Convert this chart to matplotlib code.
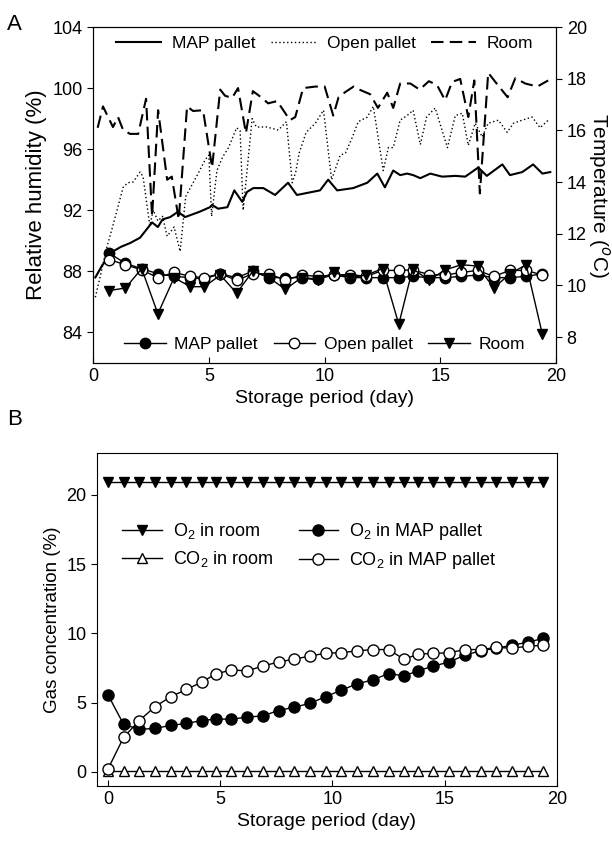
import numpy as np
import matplotlib
matplotlib.use("Agg")
import matplotlib.pyplot as plt

plt.rcParams['font.family'] = ['Liberation Sans', 'DejaVu Sans']
plt.rcParams['mathtext.fontset'] = 'custom'
plt.rcParams['mathtext.rm'] = 'Liberation Sans'

# ---- Panel A: relative humidity lines (left axis) ----
rh_map_day = [0.1, 0.4, 0.86, 1.2, 1.6, 2.03, 2.55, 2.8, 3.0, 3.33, 3.67, 3.97, 4.6, 5.05, 5.14,
              5.4, 5.8, 6.1, 6.44, 6.65, 6.92, 7.35, 7.86, 8.42, 8.8, 9.8, 10.15, 10.54, 11.23,
              11.84, 12.27, 12.6, 12.96, 13.26, 13.56, 13.82, 14.13, 14.56, 15.07, 15.64, 16.07,
              16.63, 17.0, 17.67, 18.0, 18.53, 19.0, 19.4, 19.74]
rh_map = [87.6, 88.4, 89.3, 89.6, 89.85, 90.2, 91.2, 90.9, 91.4, 91.55, 91.9, 91.55, 91.9, 92.2, 92.35,
          92.1, 92.2, 93.3, 92.55, 93.2, 93.45, 93.45, 93.0, 93.8, 93.0, 93.3, 94.0, 93.3, 93.45,
          93.8, 94.4, 93.5, 94.6, 94.3, 94.4, 94.3, 94.1, 94.4, 94.2, 94.25, 94.2,
          94.8, 94.25, 95.0, 94.3, 94.5, 95.0, 94.4, 94.5]

rh_open_day = [0.1, 0.3, 0.6, 0.86, 1.3, 1.5, 1.73, 2.03, 2.16, 2.45, 2.6, 2.8, 3.0, 3.2, 3.5, 3.76,
               4.0, 4.5, 4.84, 5.0, 5.12, 5.35, 5.6, 5.85, 6.2, 6.35, 6.48, 6.65, 6.87, 7.05, 7.5,
               8.0, 8.35, 8.6, 8.75, 8.9, 9.2, 9.6, 9.95, 10.3, 10.67, 10.9, 11.2, 11.45, 11.84,
               12.1, 12.53, 12.75, 12.96, 13.26, 13.56, 13.82, 14.13, 14.4, 14.77, 15.3, 15.64,
               15.94, 16.2, 16.5, 16.8, 17.06, 17.5, 17.88, 18.15, 18.53, 18.96, 19.3, 19.65]
rh_open = [86.3, 87.6, 89.6, 91.0, 93.5, 93.8, 93.85, 94.5, 94.2, 91.0, 92.0, 91.3, 91.6, 90.3, 90.9, 89.3,
           92.9, 94.3, 95.3, 95.6, 91.6, 94.6, 95.5, 96.1, 97.4, 97.2, 92.0, 94.6, 98.0, 97.45, 97.45,
           97.25, 97.8, 93.8, 94.5, 95.75, 97.1, 97.7, 98.55, 94.0, 95.6, 95.75, 96.8, 97.8, 98.1,
           98.8, 94.6, 96.1, 96.1, 97.9, 98.2, 98.55, 96.3, 98.1, 98.7, 96.1, 98.2,
           98.35, 96.25, 97.7, 96.8, 97.7, 97.9, 97.1, 97.7, 97.9, 98.1, 97.4, 97.9]

rh_room_day = [0.2, 0.43, 0.86, 1.08, 1.3, 1.6, 1.95, 2.29, 2.55, 2.81, 3.2, 3.4, 3.7, 4.06, 4.32,
               4.75, 5.14, 5.49, 5.7, 6.0, 6.26, 6.6, 6.9, 7.3, 7.56, 7.95, 8.5, 8.73, 9.07, 9.6,
               10.0, 10.37, 10.6, 10.9, 11.25, 11.5, 11.96, 12.3, 12.7, 12.96, 13.26, 13.7, 14.1,
               14.5, 14.85, 15.2, 15.5, 15.85, 16.2, 16.46, 16.7, 17.06, 17.37, 17.9, 18.23, 18.66,
               19.18, 19.65]
rh_room = [97.4, 98.8, 97.45, 98.1, 97.25, 97.0, 97.0, 99.3, 91.6, 98.55, 94.0, 94.2, 91.4, 98.8, 98.5,
           98.55, 94.8, 99.9, 99.5, 99.35, 100.0, 97.05, 99.8, 99.35, 99.0, 99.15, 97.9, 98.1, 100.0, 100.1,
           100.1, 98.2, 99.4, 99.75, 100.1, 99.9, 99.6, 98.7, 99.7, 98.7, 100.3, 100.3, 99.9,
           100.45, 100.2, 99.2, 100.4, 100.6, 98.1, 100.5, 93.1, 101.0, 100.4, 99.4, 100.65, 100.3,
           100.1, 100.5]

# ---- Panel A: temperature markers (right axis) ----
temp_day = [0.7, 1.4, 2.1, 2.8, 3.5, 4.2, 4.8, 5.5, 6.2, 6.9, 7.6, 8.3, 9.0, 9.7, 10.4, 11.1, 11.8,
            12.5, 13.2, 13.8, 14.5, 15.2, 15.9, 16.6, 17.3, 18.0, 18.7, 19.4]
temp_map = [11.25, 10.85, 10.65, 10.45, 10.35, 10.3, 10.25, 10.45, 10.3, 10.55, 10.3, 10.3, 10.3, 10.25,
            10.4, 10.3, 10.3, 10.3, 10.3, 10.35, 10.3, 10.3, 10.35, 10.4, 10.3, 10.3, 10.35, 10.45]
temp_open = [11.0, 10.8, 10.6, 10.3, 10.5, 10.35, 10.3, 10.45, 10.2, 10.45, 10.45, 10.2, 10.4, 10.35,
             10.4, 10.42, 10.35, 10.58, 10.58, 10.6, 10.42, 10.4, 10.5, 10.58, 10.35, 10.58, 10.58, 10.4]
temp_room = [9.8, 9.9, 10.65, 8.9, 10.3, 9.95, 9.95, 10.4, 9.7, 10.55, 10.3, 9.85, 10.3, 10.2,
             10.5, 10.3, 10.4, 10.65, 8.5, 10.65, 10.2, 10.6, 10.8, 10.75, 9.9, 10.45, 10.8, 8.1]

# ---- Panel B: gas concentration ----
gas_day = [0.0, 0.7, 1.4, 2.1, 2.8, 3.5, 4.2, 4.8, 5.5, 6.2, 6.9, 7.6, 8.3, 9.0, 9.7, 10.4, 11.1, 11.8,
           12.5, 13.2, 13.8, 14.5, 15.2, 15.9, 16.6, 17.3, 18.0, 18.7, 19.4]
o2_room = [20.9] * 29
co2_room = [0.1] * 29
o2_map = [5.57, 3.43, 3.07, 3.14, 3.36, 3.5, 3.71, 3.81, 3.81, 3.95, 4.05, 4.43, 4.67, 4.95, 5.43,
          5.9, 6.36, 6.64, 7.1, 6.93, 7.29, 7.64, 7.93, 8.43, 8.74, 8.93, 9.14, 9.36, 9.64]
co2_map = [0.2, 2.5, 3.71, 4.71, 5.43, 5.95, 6.5, 7.07, 7.36, 7.29, 7.64, 7.93, 8.14, 8.36, 8.57,
           8.6, 8.74, 8.83, 8.83, 8.12, 8.5, 8.55, 8.6, 8.83, 8.83, 8.98, 8.93, 9.07, 9.14]

fig = plt.figure(figsize=(6.12, 8.44), dpi=100)

# ----------------- Panel A -----------------
ax1 = fig.add_axes([0.152, 0.570, 0.757, 0.398])
ax1.plot(rh_map_day, rh_map, color='black', lw=1.5, label='MAP pallet')
ax1.plot(rh_open_day, rh_open, color='black', lw=1.0, linestyle=(0, (1, 1.8)), label='Open pallet')
ax1.plot(rh_room_day, rh_room, color='black', lw=1.5, linestyle=(0, (6, 3)), label='Room')
ax1.set_xlim(0, 20)
ax1.set_ylim(82, 104)
ax1.set_yticks([84, 88, 92, 96, 100, 104])
ax1.set_xticks([0, 5, 10, 15, 20])
ax1.set_xlabel('Storage period (day)', fontsize=14)
ax1.set_ylabel('Relative humidity (%)', fontsize=16)
ax1.tick_params(axis='x', direction='in', labelsize=13, length=4)
ax1.tick_params(axis='y', direction='out', labelsize=13, length=4)
ax1.legend(loc='upper center', ncol=3, frameon=False, fontsize=12.5,
           handlelength=2.6, columnspacing=0.9, handletextpad=0.6,
           bbox_to_anchor=(0.5, 1.02))

ax2 = ax1.twinx()
ax2.plot(temp_day, temp_map, color='black', lw=1.0, marker='o', ms=7.5,
         mfc='black', mec='black', label='MAP pallet')
ax2.plot(temp_day, temp_open, color='black', lw=1.0, marker='o', ms=7.5,
         mfc='white', mec='black', label='Open pallet')
ax2.plot(temp_day, temp_room, color='black', lw=1.0, marker='v', ms=7.5,
         mfc='black', mec='black', label='Room')
ax2.set_ylim(7, 20)
ax2.set_yticks([8, 10, 12, 14, 16, 18, 20])
ax2.set_ylabel('Temperature ($^{o}$C)', fontsize=15, rotation=270, labelpad=18)
ax2.tick_params(axis='y', direction='out', labelsize=13, length=4)
ax2.legend(loc='lower center', ncol=3, frameon=False, fontsize=12.5,
           handlelength=2.4, columnspacing=0.9, handletextpad=0.5,
           bbox_to_anchor=(0.5, -0.015))

fig.text(0.012, 0.965, 'A', fontsize=16)

# ----------------- Panel B -----------------
ax3 = fig.add_axes([0.158, 0.069, 0.752, 0.394])
ax3.plot(gas_day, o2_room, color='black', lw=1.0, marker='v', ms=7.5,
         mfc='black', mec='black', label='O$_2$ in room')
ax3.plot(gas_day, co2_room, color='black', lw=1.0, marker='^', ms=7.5,
         mfc='white', mec='black', label='CO$_2$ in room')
ax3.plot(gas_day, o2_map, color='black', lw=1.0, marker='o', ms=8,
         mfc='black', mec='black', label='O$_2$ in MAP pallet')
ax3.plot(gas_day, co2_map, color='black', lw=1.0, marker='o', ms=8,
         mfc='white', mec='black', label='CO$_2$ in MAP pallet')
ax3.set_xlim(-0.5, 20)
ax3.set_ylim(-1, 23)
ax3.set_xticks([0, 5, 10, 15, 20])
ax3.set_yticks([0, 5, 10, 15, 20])
ax3.set_xlabel('Storage period (day)', fontsize=14)
ax3.set_ylabel('Gas concentration (%)', fontsize=13.5)
ax3.tick_params(axis='x', direction='in', labelsize=13, length=4)
ax3.tick_params(axis='y', direction='out', labelsize=13, length=4)
ax3.legend(loc='upper left', ncol=2, frameon=False, fontsize=13,
           handlelength=2.2, columnspacing=1.4, handletextpad=0.6,
           labelspacing=0.45, bbox_to_anchor=(0.02, 0.845))

fig.text(0.012, 0.497, 'B', fontsize=16)

fig.savefig('out.png', dpi=100)
